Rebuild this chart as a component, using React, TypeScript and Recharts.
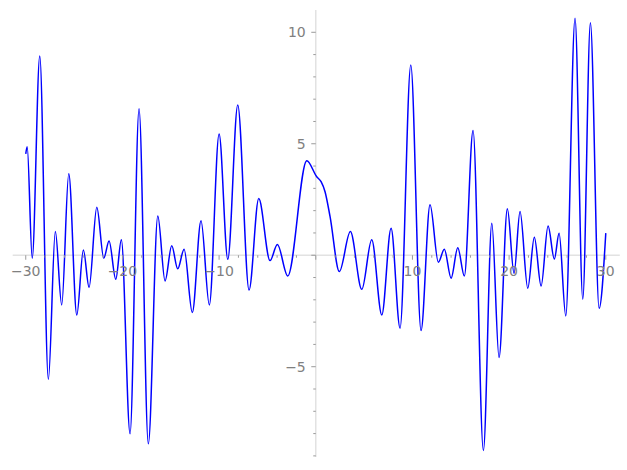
import React from "react";
import { LineChart, Line, XAxis, YAxis, CartesianGrid } from "recharts";

// Curve samples (extrema and a few shape points)
const CURVE_X = [
  -30, -29.85, -29.33, -28.55, -27.66, -26.94, -26.28, -25.55, -24.72, -24.04,
  -23.45, -22.65, -21.93, -21.38, -20.69, -20.11, -19.21, -18.28, -17.32, -16.34,
  -15.59, -14.9, -14.28, -13.62, -12.77, -11.87, -11.01, -10.0, -9.1, -8.07,
  -6.9, -5.9, -4.73, -3.97, -2.9, -0.93, 0.1, 0.55, 0.96, 1.48,
  2.44, 3.58, 4.76, 5.79, 6.83, 7.79, 8.72, 9.83, 10.89, 11.82,
  12.68, 13.3, 14.0, 14.69, 15.37, 16.27, 17.34, 18.21, 18.96, 19.82,
  20.51, 21.13, 21.93, 22.61, 23.31, 24.03, 24.68, 25.17, 25.86, 26.82,
  27.62, 28.41, 29.31, 30.0,
];
const CURVE_Y = [
  4.55, 4.87, -0.13, 8.94, -5.56, 1.06, -2.23, 3.65, -2.68, 0.24,
  -1.44, 2.15, -0.13, 0.64, -1.08, 0.69, -8.01, 6.57, -8.46, 1.76,
  -1.15, 0.42, -0.61, 0.27, -2.57, 1.55, -2.23, 5.44, -0.18, 6.74,
  -1.56, 2.54, -0.24, 0.48, -0.93, 4.24, 3.52, 3.3, 2.85, 1.73,
  -0.73, 1.06, -1.53, 0.69, -2.68, 1.21, -3.27, 8.53, -3.38, 2.26,
  -0.31, 0.27, -1.03, 0.34, -0.93, 5.59, -8.76, 1.43, -4.59, 2.09,
  -0.81, 1.96, -1.48, 0.81, -1.38, 1.31, -0.17, 0.99, -2.72, 10.63,
  -1.97, 10.43, -2.38, 0.99,
];

const X_TICKS = [
  -30, -28, -26, -24, -22, -20, -18, -16, -14, -12, -10, -8, -6, -4, -2, 0,
  2, 4, 6, 8, 10, 12, 14, 16, 18, 20, 22, 24, 26, 28, 30,
];
const X_LABELS = [-30, -20, -10, 10, 20, 30];
const Y_TICKS = [
  -9, -8, -7, -6, -5, -4, -3, -2, -1, 0, 1, 2, 3, 4, 5, 6, 7, 8, 9, 10,
];
const Y_LABELS = [-5, 5, 10];

const X_DOMAIN: [number, number] = [-31.35, 31.45];
const Y_DOMAIN: [number, number] = [-9.05, 11.0];

const W = 627;
const H = 470;
const X_AXIS_H = 1;
const Y_AXIS_W = 1;
const MARGIN = { top: 10, right: 7.2, bottom: 12, left: 11.7 };
const PLOT_LEFT = MARGIN.left + Y_AXIS_W;
const PLOT_W = W - PLOT_LEFT - MARGIN.right;
const PLOT_H = H - MARGIN.top - MARGIN.bottom - X_AXIS_H;
// pixel position where the axes cross (value 0 on each axis)
const ZERO_Y =
  MARGIN.top + (PLOT_H * (Y_DOMAIN[1] - 0)) / (Y_DOMAIN[1] - Y_DOMAIN[0]);
const ZERO_X =
  PLOT_LEFT + (PLOT_W * (0 - X_DOMAIN[0])) / (X_DOMAIN[1] - X_DOMAIN[0]);

const AXIS_COLOR = "#e2e2e2";
const TICK_COLOR = "#9a9a9a";
const LABEL_COLOR = "#808080";
const FONT = "'DejaVu Sans', sans-serif";

const data = CURVE_X.map((x, i) => ({ x, y: CURVE_Y[i] }));

const fmt = (v: number) => (v < 0 ? "\u2212" + Math.abs(v) : String(v));

function XTick(props: any) {
  const { x, payload } = props;
  const v = payload.value as number;
  const major = v % 10 === 0;
  return (
    <g>
      <line
        x1={x}
        x2={x}
        y1={ZERO_Y}
        y2={ZERO_Y + (major ? 4.5 : 2.5)}
        stroke={TICK_COLOR}
        strokeWidth={1}
      />
      {X_LABELS.includes(v) && (
        <text
          x={x}
          y={ZERO_Y + 20.7}
          textAnchor="middle"
          fill={LABEL_COLOR}
          fontSize={14}
          fontFamily={FONT}
        >
          {fmt(v)}
        </text>
      )}
    </g>
  );
}

function YTick(props: any) {
  const { y, payload } = props;
  const v = payload.value as number;
  const major = v % 5 === 0;
  return (
    <g>
      <line
        x1={ZERO_X - (major ? 4.5 : 2.5)}
        x2={ZERO_X}
        y1={y}
        y2={y}
        stroke={TICK_COLOR}
        strokeWidth={1}
      />
      {Y_LABELS.includes(v) && (
        <text
          x={ZERO_X - 10}
          y={y + 5}
          textAnchor="end"
          fill={LABEL_COLOR}
          fontSize={14}
          fontFamily={FONT}
        >
          {fmt(v)}
        </text>
      )}
    </g>
  );
}

export default function App() {
  return (
    <div
      style={{
        position: "absolute",
        left: 0,
        top: 0,
        width: W,
        height: H,
        background: "#fff",
      }}
    >
      <LineChart width={W} height={H} data={data} margin={MARGIN}>
        <CartesianGrid
          horizontalValues={[0]}
          verticalValues={[0]}
          stroke={AXIS_COLOR}
          strokeWidth={1.5}
        />
        <XAxis
          type="number"
          dataKey="x"
          domain={X_DOMAIN}
          ticks={X_TICKS}
          interval={0}
          height={X_AXIS_H}
          axisLine={false}
          tickLine={false}
          tick={<XTick />}
        />
        <YAxis
          type="number"
          domain={Y_DOMAIN}
          ticks={Y_TICKS}
          interval={0}
          width={Y_AXIS_W}
          axisLine={false}
          tickLine={false}
          tick={<YTick />}
        />
        <Line
          type="monotone"
          dataKey="y"
          stroke="#0000ff"
          strokeWidth={1.5}
          dot={false}
          isAnimationActive={false}
        />
      </LineChart>
    </div>
  );
}
